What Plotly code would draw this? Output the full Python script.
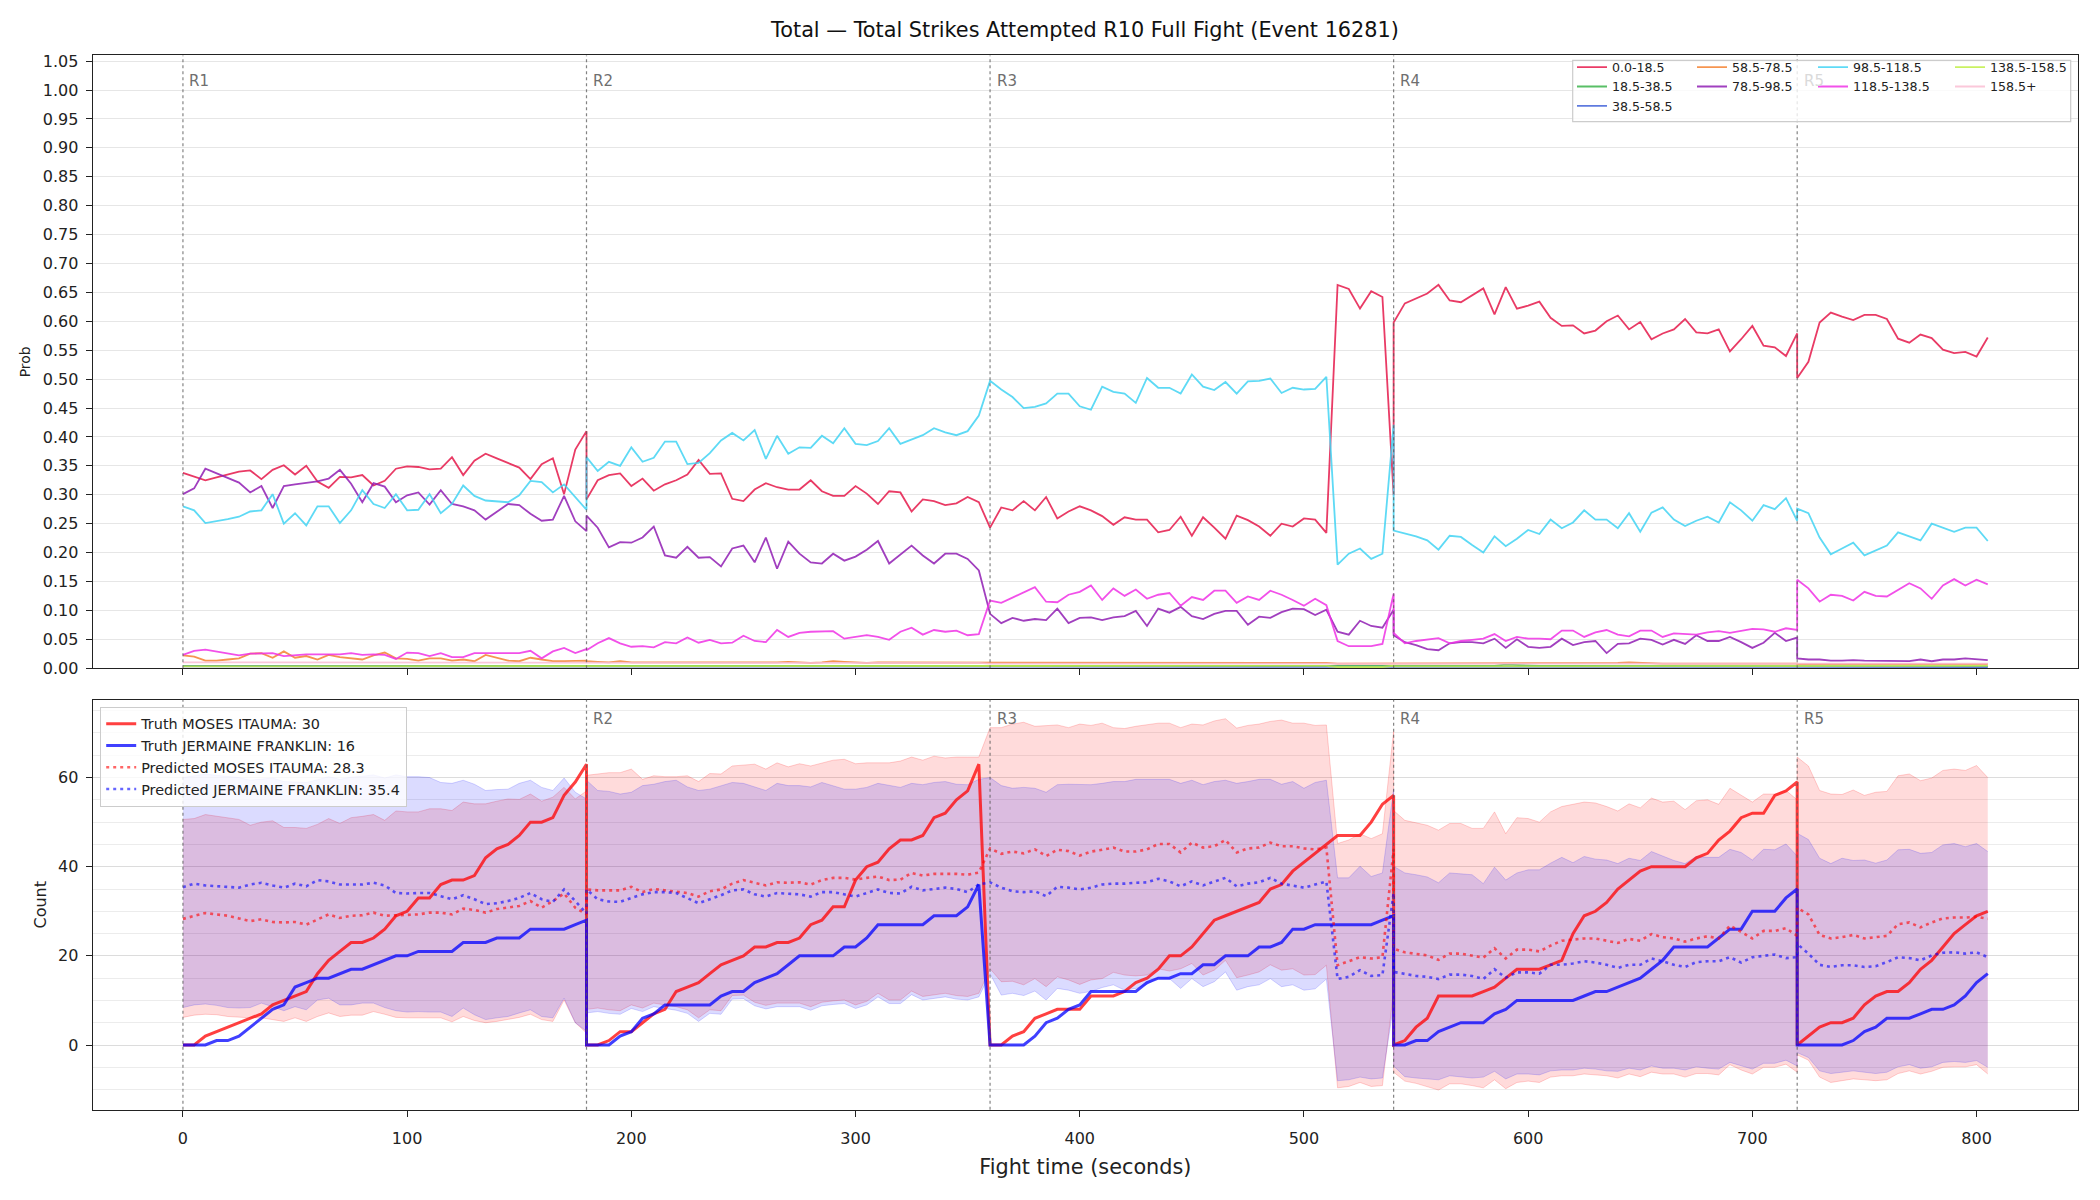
import plotly.graph_objects as go

# ---------------- time grid (5 s samples per round) ----------------
t_r1 = list(range(0, 181, 5))
t_r2 = list(range(180, 356, 5))
t_r3 = list(range(360, 541, 5))
t_r4 = list(range(540, 721, 5))
t_r5 = list(range(720, 806, 5))
time_s = t_r1 + t_r2 + t_r3 + t_r4 + t_r5

round_starts = [0, 180, 360, 540, 720]
round_labels = ["R1", "R2", "R3", "R4", "R5"]

# ---------------- top panel: bin probabilities ----------------
bin_labels = ["0.0-18.5", "18.5-38.5", "38.5-58.5", "58.5-78.5", "78.5-98.5",
              "98.5-118.5", "118.5-138.5", "138.5-158.5", "158.5+"]
bin_colors = ["#e6194B", "#3cb44b", "#4363d8", "#f58231", "#911eb4",
              "#42d4f4", "#f032e6", "#bfef45", "#fabed4"]

p_0_18 = [
    0.338, 0.331, 0.325, 0.330, 0.335, 0.340, 0.342, 0.327, 0.343, 0.351,
    0.335, 0.350, 0.323, 0.312, 0.331, 0.330, 0.334, 0.316, 0.324, 0.345,
    0.349, 0.348, 0.344, 0.345, 0.365, 0.334, 0.359, 0.371, 0.363, 0.355,
    0.347, 0.327, 0.353, 0.363, 0.301, 0.378, 0.410,
    0.292, 0.325, 0.334, 0.337, 0.315, 0.328, 0.307, 0.318, 0.325, 0.335,
    0.360, 0.336, 0.337, 0.293, 0.289, 0.309, 0.320, 0.313, 0.309, 0.309,
    0.325, 0.306, 0.298, 0.298, 0.315, 0.302, 0.284, 0.306, 0.304, 0.271,
    0.292, 0.289, 0.282, 0.285, 0.296, 0.287,
    0.243, 0.278, 0.273, 0.289, 0.273, 0.296, 0.259, 0.271, 0.280, 0.273,
    0.263, 0.248, 0.261, 0.257, 0.257, 0.235, 0.239, 0.262, 0.229, 0.261,
    0.243, 0.224, 0.264, 0.256, 0.245, 0.229, 0.250, 0.245, 0.259, 0.257,
    0.234, 0.663, 0.656, 0.622, 0.652, 0.642, 0.299,
    0.598, 0.631, 0.640, 0.648, 0.663, 0.636, 0.633, 0.645, 0.657, 0.612,
    0.659, 0.622, 0.627, 0.634, 0.606, 0.592, 0.593, 0.579, 0.584, 0.600,
    0.610, 0.586, 0.599, 0.569, 0.579, 0.586, 0.604, 0.581, 0.579, 0.586,
    0.548, 0.569, 0.592, 0.558, 0.555, 0.540, 0.579,
    0.502, 0.530, 0.598, 0.615, 0.608, 0.602, 0.611, 0.611, 0.604, 0.570,
    0.563, 0.577, 0.571, 0.551, 0.545, 0.547, 0.539, 0.572,
]
p_18_38 = [
    0.004, 0.004, 0.004, 0.004, 0.004, 0.004, 0.004, 0.004, 0.004, 0.004,
    0.004, 0.004, 0.004, 0.004, 0.004, 0.004, 0.004, 0.004, 0.004, 0.004,
    0.004, 0.004, 0.004, 0.004, 0.004, 0.004, 0.004, 0.004, 0.004, 0.004,
    0.004, 0.004, 0.004, 0.004, 0.004, 0.004, 0.004,
    0.004, 0.004, 0.004, 0.004, 0.004, 0.004, 0.004, 0.004, 0.004, 0.004,
    0.004, 0.004, 0.004, 0.004, 0.004, 0.004, 0.004, 0.004, 0.004, 0.004,
    0.004, 0.004, 0.004, 0.004, 0.004, 0.004, 0.004, 0.004, 0.004, 0.004,
    0.004, 0.004, 0.004, 0.004, 0.004, 0.004,
    0.004, 0.004, 0.004, 0.004, 0.004, 0.004, 0.004, 0.004, 0.004, 0.004,
    0.004, 0.004, 0.004, 0.004, 0.004, 0.004, 0.004, 0.004, 0.004, 0.004,
    0.004, 0.004, 0.004, 0.004, 0.004, 0.004, 0.004, 0.004, 0.004, 0.004,
    0.004, 0.003, 0.003, 0.003, 0.003, 0.003, 0.004,
    0.004, 0.004, 0.004, 0.004, 0.004, 0.004, 0.004, 0.004, 0.004, 0.004,
    0.006, 0.005, 0.004, 0.004, 0.004, 0.004, 0.004, 0.004, 0.004, 0.004,
    0.004, 0.004, 0.004, 0.004, 0.004, 0.004, 0.004, 0.004, 0.004, 0.004,
    0.004, 0.004, 0.004, 0.004, 0.004, 0.004, 0.004,
    0.003, 0.003, 0.003, 0.003, 0.003, 0.003, 0.003, 0.003, 0.003, 0.003,
    0.003, 0.003, 0.003, 0.003, 0.003, 0.003, 0.003, 0.003,
]
p_38_58 = [
    0.003, 0.003, 0.003, 0.003, 0.003, 0.003, 0.003, 0.003, 0.003, 0.003,
    0.003, 0.003, 0.003, 0.003, 0.003, 0.003, 0.003, 0.003, 0.003, 0.003,
    0.003, 0.003, 0.003, 0.003, 0.003, 0.003, 0.003, 0.003, 0.003, 0.003,
    0.003, 0.003, 0.003, 0.003, 0.003, 0.003, 0.003,
    0.003, 0.003, 0.003, 0.003, 0.003, 0.003, 0.003, 0.003, 0.003, 0.003,
    0.003, 0.003, 0.003, 0.003, 0.003, 0.003, 0.003, 0.003, 0.003, 0.003,
    0.003, 0.003, 0.003, 0.003, 0.003, 0.003, 0.003, 0.003, 0.003, 0.003,
    0.003, 0.003, 0.003, 0.003, 0.003, 0.003,
    0.003, 0.003, 0.003, 0.003, 0.003, 0.003, 0.003, 0.003, 0.003, 0.003,
    0.003, 0.003, 0.003, 0.003, 0.003, 0.003, 0.003, 0.003, 0.003, 0.003,
    0.003, 0.003, 0.003, 0.003, 0.003, 0.003, 0.003, 0.003, 0.003, 0.003,
    0.003, 0.002, 0.002, 0.002, 0.002, 0.002, 0.003,
    0.003, 0.003, 0.003, 0.003, 0.003, 0.003, 0.003, 0.003, 0.003, 0.003,
    0.003, 0.003, 0.003, 0.003, 0.003, 0.003, 0.003, 0.003, 0.003, 0.003,
    0.003, 0.003, 0.003, 0.003, 0.003, 0.003, 0.003, 0.003, 0.003, 0.003,
    0.003, 0.003, 0.003, 0.003, 0.003, 0.003, 0.003,
    0.002, 0.002, 0.002, 0.002, 0.002, 0.002, 0.002, 0.002, 0.002, 0.002,
    0.002, 0.002, 0.002, 0.002, 0.002, 0.002, 0.002, 0.002,
]
p_58_78 = [
    0.022, 0.020, 0.013, 0.013, 0.015, 0.017, 0.025, 0.026, 0.018, 0.029,
    0.018, 0.021, 0.015, 0.023, 0.019, 0.017, 0.015, 0.022, 0.027, 0.017,
    0.016, 0.013, 0.017, 0.017, 0.013, 0.015, 0.012, 0.023, 0.018, 0.013,
    0.012, 0.018, 0.015, 0.012, 0.012, 0.012, 0.013,
    0.012, 0.011, 0.010, 0.012, 0.010, 0.010, 0.010, 0.010, 0.009, 0.010,
    0.010, 0.009, 0.010, 0.010, 0.009, 0.010, 0.009, 0.010, 0.011, 0.010,
    0.009, 0.010, 0.012, 0.011, 0.010, 0.009, 0.010, 0.010, 0.009, 0.009,
    0.010, 0.010, 0.009, 0.010, 0.010, 0.009,
    0.009, 0.009, 0.010, 0.009, 0.009, 0.010, 0.009, 0.009, 0.009, 0.010,
    0.009, 0.009, 0.009, 0.010, 0.009, 0.009, 0.009, 0.009, 0.010, 0.009,
    0.009, 0.009, 0.009, 0.010, 0.009, 0.009, 0.009, 0.009, 0.009, 0.010,
    0.009, 0.008, 0.008, 0.008, 0.008, 0.008, 0.009,
    0.008, 0.008, 0.008, 0.008, 0.008, 0.008, 0.009, 0.008, 0.008, 0.008,
    0.008, 0.008, 0.008, 0.009, 0.008, 0.008, 0.008, 0.008, 0.008, 0.008,
    0.009, 0.010, 0.009, 0.008, 0.008, 0.008, 0.008, 0.008, 0.008, 0.009,
    0.008, 0.008, 0.008, 0.008, 0.008, 0.008, 0.008,
    0.007, 0.007, 0.007, 0.007, 0.007, 0.007, 0.007, 0.008, 0.007, 0.007,
    0.007, 0.007, 0.007, 0.007, 0.007, 0.007, 0.007, 0.007,
]
p_78_98 = [
    0.301, 0.311, 0.345, 0.337, 0.330, 0.321, 0.304, 0.315, 0.277, 0.315,
    0.318, 0.320, 0.323, 0.328, 0.343, 0.319, 0.287, 0.320, 0.314, 0.287,
    0.299, 0.304, 0.283, 0.308, 0.284, 0.280, 0.273, 0.257, 0.270, 0.284,
    0.282, 0.267, 0.255, 0.257, 0.298, 0.254, 0.237,
    0.264, 0.243, 0.209, 0.218, 0.217, 0.226, 0.245, 0.195, 0.191, 0.210,
    0.191, 0.192, 0.176, 0.207, 0.212, 0.183, 0.226, 0.172, 0.219, 0.198,
    0.183, 0.181, 0.198, 0.186, 0.193, 0.205, 0.220, 0.181, 0.196, 0.212,
    0.195, 0.181, 0.198, 0.198, 0.189, 0.169,
    0.094, 0.078, 0.087, 0.082, 0.085, 0.083, 0.103, 0.078, 0.087, 0.088,
    0.083, 0.088, 0.090, 0.099, 0.073, 0.103, 0.096, 0.106, 0.090, 0.085,
    0.094, 0.099, 0.099, 0.075, 0.089, 0.087, 0.097, 0.103, 0.102, 0.092,
    0.101, 0.063, 0.058, 0.082, 0.073, 0.070, 0.101,
    0.057, 0.045, 0.040, 0.033, 0.031, 0.043, 0.045, 0.045, 0.043, 0.051,
    0.035, 0.050, 0.037, 0.035, 0.037, 0.051, 0.040, 0.045, 0.047, 0.026,
    0.042, 0.043, 0.051, 0.049, 0.041, 0.049, 0.042, 0.057, 0.047, 0.047,
    0.054, 0.045, 0.035, 0.044, 0.061, 0.047, 0.053,
    0.017, 0.015, 0.015, 0.013, 0.013, 0.014, 0.013, 0.013, 0.012, 0.012,
    0.012, 0.015, 0.012, 0.015, 0.015, 0.017, 0.015, 0.014,
]
p_98_118 = [
    0.280, 0.273, 0.251, 0.254, 0.258, 0.262, 0.271, 0.273, 0.301, 0.250,
    0.268, 0.247, 0.280, 0.280, 0.251, 0.273, 0.308, 0.284, 0.277, 0.301,
    0.273, 0.274, 0.301, 0.268, 0.284, 0.316, 0.298, 0.290, 0.288, 0.287,
    0.299, 0.324, 0.322, 0.304, 0.318, 0.296, 0.274,
    0.365, 0.341, 0.357, 0.350, 0.382, 0.357, 0.364, 0.392, 0.392, 0.353,
    0.355, 0.372, 0.394, 0.407, 0.394, 0.412, 0.362, 0.402, 0.371, 0.382,
    0.381, 0.402, 0.389, 0.415, 0.388, 0.386, 0.393, 0.415, 0.388, 0.396,
    0.403, 0.415, 0.408, 0.403, 0.410, 0.437,
    0.497, 0.482, 0.469, 0.450, 0.452, 0.458, 0.475, 0.475, 0.453, 0.447,
    0.487, 0.478, 0.475, 0.459, 0.502, 0.485, 0.485, 0.475, 0.508, 0.487,
    0.481, 0.495, 0.475, 0.496, 0.497, 0.501, 0.476, 0.485, 0.482, 0.483,
    0.504, 0.179, 0.198, 0.207, 0.189, 0.198, 0.421,
    0.238, 0.233, 0.228, 0.221, 0.205, 0.229, 0.227, 0.213, 0.200, 0.228,
    0.211, 0.224, 0.239, 0.232, 0.257, 0.242, 0.252, 0.273, 0.257, 0.257,
    0.242, 0.268, 0.236, 0.269, 0.278, 0.257, 0.246, 0.255, 0.262, 0.252,
    0.287, 0.273, 0.255, 0.282, 0.275, 0.294, 0.255,
    0.276, 0.268, 0.226, 0.197, 0.207, 0.217, 0.195, 0.203, 0.212, 0.235,
    0.228, 0.221, 0.250, 0.243, 0.236, 0.243, 0.243, 0.220,
]
p_118_138 = [
    0.023, 0.030, 0.032, 0.029, 0.026, 0.022, 0.025, 0.026, 0.026, 0.021,
    0.023, 0.024, 0.024, 0.024, 0.024, 0.026, 0.023, 0.024, 0.023, 0.016,
    0.027, 0.026, 0.021, 0.026, 0.019, 0.019, 0.026, 0.026, 0.026, 0.027,
    0.026, 0.030, 0.017, 0.029, 0.035, 0.026, 0.033,
    0.031, 0.043, 0.052, 0.043, 0.037, 0.038, 0.036, 0.045, 0.043, 0.053,
    0.044, 0.049, 0.043, 0.044, 0.056, 0.047, 0.045, 0.066, 0.054, 0.061,
    0.063, 0.063, 0.064, 0.051, 0.054, 0.057, 0.054, 0.049, 0.063, 0.070,
    0.058, 0.066, 0.063, 0.065, 0.057, 0.059,
    0.117, 0.113, 0.122, 0.131, 0.140, 0.115, 0.114, 0.127, 0.132, 0.143,
    0.118, 0.138, 0.125, 0.136, 0.120, 0.127, 0.130, 0.108, 0.123, 0.118,
    0.134, 0.134, 0.113, 0.124, 0.118, 0.134, 0.127, 0.118, 0.108, 0.120,
    0.109, 0.047, 0.038, 0.038, 0.038, 0.042, 0.129,
    0.061, 0.043, 0.047, 0.050, 0.052, 0.043, 0.047, 0.049, 0.051, 0.059,
    0.047, 0.054, 0.051, 0.051, 0.050, 0.065, 0.065, 0.054, 0.062, 0.066,
    0.058, 0.055, 0.065, 0.065, 0.054, 0.060, 0.059, 0.058, 0.062, 0.064,
    0.061, 0.064, 0.068, 0.067, 0.063, 0.069, 0.066,
    0.153, 0.138, 0.115, 0.127, 0.125, 0.117, 0.132, 0.125, 0.124, 0.136,
    0.147, 0.138, 0.120, 0.143, 0.154, 0.143, 0.153, 0.145,
]
p_138_158 = [
    0.003, 0.003, 0.003, 0.003, 0.003, 0.003, 0.003, 0.003, 0.003, 0.003,
    0.003, 0.003, 0.003, 0.003, 0.003, 0.003, 0.003, 0.003, 0.003, 0.003,
    0.003, 0.003, 0.003, 0.003, 0.003, 0.003, 0.003, 0.003, 0.003, 0.003,
    0.003, 0.003, 0.003, 0.003, 0.003, 0.003, 0.003,
    0.003, 0.003, 0.003, 0.003, 0.003, 0.003, 0.003, 0.003, 0.003, 0.003,
    0.003, 0.003, 0.003, 0.003, 0.003, 0.003, 0.003, 0.003, 0.003, 0.003,
    0.003, 0.003, 0.003, 0.003, 0.003, 0.003, 0.003, 0.003, 0.003, 0.003,
    0.003, 0.003, 0.003, 0.003, 0.003, 0.003,
    0.004, 0.004, 0.004, 0.004, 0.004, 0.004, 0.004, 0.004, 0.004, 0.004,
    0.004, 0.004, 0.004, 0.004, 0.004, 0.004, 0.004, 0.004, 0.004, 0.004,
    0.004, 0.004, 0.004, 0.004, 0.004, 0.004, 0.004, 0.004, 0.004, 0.004,
    0.004, 0.002, 0.002, 0.002, 0.002, 0.002, 0.004,
    0.003, 0.003, 0.003, 0.003, 0.003, 0.003, 0.003, 0.003, 0.003, 0.003,
    0.003, 0.003, 0.003, 0.003, 0.003, 0.003, 0.003, 0.003, 0.003, 0.003,
    0.003, 0.003, 0.003, 0.003, 0.003, 0.003, 0.003, 0.003, 0.003, 0.003,
    0.003, 0.003, 0.003, 0.003, 0.003, 0.003, 0.003,
    0.004, 0.004, 0.004, 0.004, 0.004, 0.004, 0.004, 0.004, 0.004, 0.004,
    0.004, 0.004, 0.004, 0.004, 0.004, 0.004, 0.004, 0.004,
]
p_158_up = [
    0.010, 0.010, 0.009, 0.009, 0.009, 0.010, 0.010, 0.010, 0.009, 0.010,
    0.010, 0.010, 0.009, 0.010, 0.010, 0.010, 0.009, 0.010, 0.010, 0.010,
    0.010, 0.009, 0.010, 0.010, 0.010, 0.010, 0.009, 0.010, 0.010, 0.010,
    0.010, 0.010, 0.009, 0.010, 0.010, 0.010, 0.010,
    0.009, 0.009, 0.009, 0.009, 0.009, 0.009, 0.009, 0.009, 0.009, 0.009,
    0.009, 0.009, 0.009, 0.009, 0.009, 0.009, 0.009, 0.009, 0.009, 0.009,
    0.009, 0.009, 0.009, 0.009, 0.009, 0.009, 0.009, 0.009, 0.009, 0.009,
    0.009, 0.009, 0.009, 0.009, 0.009, 0.009,
    0.008, 0.008, 0.008, 0.008, 0.008, 0.008, 0.008, 0.008, 0.008, 0.008,
    0.008, 0.008, 0.008, 0.008, 0.008, 0.008, 0.008, 0.008, 0.008, 0.008,
    0.008, 0.008, 0.008, 0.008, 0.008, 0.008, 0.008, 0.008, 0.008, 0.008,
    0.008, 0.007, 0.007, 0.007, 0.007, 0.007, 0.008,
    0.008, 0.008, 0.008, 0.008, 0.008, 0.008, 0.008, 0.008, 0.008, 0.008,
    0.008, 0.008, 0.008, 0.008, 0.008, 0.008, 0.008, 0.008, 0.008, 0.008,
    0.008, 0.008, 0.008, 0.008, 0.008, 0.008, 0.008, 0.008, 0.008, 0.008,
    0.008, 0.008, 0.008, 0.008, 0.008, 0.008, 0.008,
    0.008, 0.008, 0.008, 0.008, 0.008, 0.008, 0.008, 0.008, 0.008, 0.008,
    0.008, 0.008, 0.008, 0.008, 0.008, 0.008, 0.008, 0.008,
]
bin_probs = [p_0_18, p_18_38, p_38_58, p_58_78, p_78_98,
             p_98_118, p_118_138, p_138_158, p_158_up]

# ---------------- bottom panel: counts ----------------
fighter_red = "MOSES ITAUMA"
fighter_blue = "JERMAINE FRANKLIN"

truth_red = [
    0, 0, 2, 3, 4, 5, 6, 7, 9, 10, 11, 12, 16, 19, 21, 23, 23, 24, 26, 29,
    30, 33, 33, 36, 37, 37, 38, 42, 44, 45, 47, 50, 50, 51, 56, 59, 63,
    0, 0, 1, 3, 3, 5, 7, 8, 12, 13, 14, 16, 18, 19, 20, 22, 22, 23, 23, 24,
    27, 28, 31, 31, 37, 40, 41, 44, 46, 46, 47, 51, 52, 55, 57, 63,
    0, 0, 2, 3, 6, 7, 8, 8, 8, 11, 11, 11, 12, 14, 15, 17, 20, 20, 22, 25,
    28, 29, 30, 31, 32, 35, 36, 39, 41, 43, 45, 47, 47, 47, 50, 54, 56,
    0, 1, 4, 6, 11, 11, 11, 11, 12, 13, 15, 17, 17, 17, 18, 19, 25, 29, 30, 32,
    35, 37, 39, 40, 40, 40, 40, 42, 43, 46, 48, 51, 52, 52, 56, 57, 59,
    0, 2, 4, 5, 5, 6, 9, 11, 12, 12, 14, 17, 19, 22, 25, 27, 29, 30,
]
truth_blue = [
    0, 0, 0, 1, 1, 2, 4, 6, 8, 9, 13, 14, 15, 15, 16, 17, 17, 18, 19, 20,
    20, 21, 21, 21, 21, 23, 23, 23, 24, 24, 24, 26, 26, 26, 26, 27, 28,
    0, 0, 0, 2, 3, 6, 7, 9, 9, 9, 9, 9, 11, 12, 12, 14, 15, 16, 18, 20,
    20, 20, 20, 22, 22, 24, 27, 27, 27, 27, 27, 29, 29, 29, 31, 36,
    0, 0, 0, 0, 2, 5, 6, 8, 9, 12, 12, 12, 12, 12, 14, 15, 15, 16, 16, 18,
    18, 20, 20, 20, 22, 22, 23, 26, 26, 27, 27, 27, 27, 27, 27, 28, 29,
    0, 0, 1, 1, 3, 4, 5, 5, 5, 7, 8, 10, 10, 10, 10, 10, 10, 11, 12, 12,
    13, 14, 15, 17, 19, 22, 22, 22, 22, 24, 26, 26, 30, 30, 30, 33, 35,
    0, 0, 0, 0, 0, 1, 3, 4, 6, 6, 6, 7, 8, 8, 9, 11, 14, 16,
]
pred_red = [
    28.3, 29.0, 29.6, 29.3, 29.0, 28.4, 27.8, 28.2, 27.6, 27.5,
    27.6, 27.0, 28.2, 29.3, 28.5, 29.0, 29.1, 29.7, 29.0, 29.1,
    29.3, 29.3, 29.7, 29.7, 29.3, 30.6, 30.3, 29.7, 30.5, 30.8,
    31.2, 32.3, 30.8, 32.3, 34.0, 30.8, 29.3,
    34.9, 34.7, 34.7, 34.7, 35.5, 34.3, 35.0, 34.7, 34.4, 34.1,
    33.3, 34.5, 34.9, 36.2, 37.0, 36.4, 35.8, 36.5, 36.4, 36.5,
    36.0, 37.0, 37.5, 37.5, 37.1, 37.5, 37.8, 37.0, 37.1, 38.6,
    38.0, 38.4, 38.4, 38.4, 38.2, 38.7,
    44.1, 42.9, 43.4, 43.0, 43.9, 42.4, 43.8, 43.5, 42.5, 43.4,
    43.8, 44.3, 43.4, 43.4, 43.9, 45.1, 45.1, 43.2, 45.4, 44.3,
    44.6, 46.0, 43.2, 44.1, 44.3, 45.4, 44.6, 44.6, 44.1, 43.9,
    44.3, 17.9, 18.8, 19.7, 19.4, 19.7, 44.0,
    21.6, 20.8, 20.5, 20.1, 19.1, 20.5, 20.5, 20.1, 19.6, 21.7,
    19.4, 21.4, 21.4, 21.0, 22.3, 23.4, 23.7, 23.9, 23.9, 23.4,
    22.9, 23.8, 23.4, 24.9, 24.2, 23.9, 23.2, 23.9, 24.4, 23.9,
    26.8, 25.4, 23.9, 25.6, 25.6, 26.2, 24.5,
    30.8, 29.3, 24.7, 23.9, 24.2, 24.7, 23.9, 24.2, 24.5, 27.1,
    27.5, 26.4, 27.5, 28.4, 28.6, 28.6, 28.8, 28.3,
]
pred_blue = [
    35.4, 36.2, 35.8, 35.6, 35.4, 35.3, 36.0, 36.4, 35.8, 35.3,
    36.2, 35.6, 37.0, 36.7, 36.0, 36.0, 36.0, 36.4, 35.8, 34.1,
    34.0, 34.1, 34.1, 33.4, 32.7, 33.6, 32.7, 31.6, 31.8, 32.3,
    33.0, 34.1, 32.7, 32.1, 34.9, 32.3, 29.5,
    34.9, 32.7, 32.2, 32.1, 33.0, 33.8, 34.3, 34.3, 34.1, 33.0,
    31.8, 32.7, 33.6, 34.7, 34.9, 33.8, 33.3, 34.1, 33.9, 33.8,
    33.3, 34.3, 34.3, 33.8, 33.3, 34.1, 34.9, 34.1, 34.0, 35.5,
    34.7, 35.0, 35.3, 35.0, 34.3, 36.0,
    36.5, 35.3, 34.5, 34.3, 34.5, 33.4, 35.5, 35.3, 34.9, 35.3,
    36.0, 36.2, 36.2, 36.4, 36.5, 37.3, 36.7, 35.6, 36.7, 35.8,
    36.7, 37.5, 35.6, 36.2, 36.5, 37.5, 36.2, 35.8, 35.3, 36.0,
    36.7, 14.8, 15.3, 16.8, 15.5, 15.7, 34.1,
    16.4, 16.0, 15.5, 15.3, 14.8, 15.8, 15.8, 15.5, 14.8, 17.0,
    15.1, 16.3, 16.3, 16.0, 18.0, 18.0, 18.3, 18.8, 18.5, 18.0,
    17.3, 18.0, 18.0, 19.4, 18.8, 18.0, 17.5, 18.6, 18.8, 18.8,
    19.7, 18.5, 19.7, 20.0, 20.3, 19.5, 19.7,
    22.7, 20.5, 18.0, 17.5, 17.9, 17.9, 17.5, 17.7, 18.6, 19.7,
    19.5, 19.0, 20.1, 20.7, 20.8, 20.5, 20.8, 19.7,
]
band_red_hi = [
    50.6, 50.8, 51.7, 51.3, 51.0, 50.6, 49.3, 50.0, 50.3, 48.8,
    48.8, 48.6, 49.5, 50.8, 49.7, 51.0, 51.3, 51.7, 50.4, 52.5,
    52.3, 52.3, 53.0, 53.0, 52.6, 54.5, 54.1, 54.1, 54.7, 55.2,
    55.1, 56.3, 54.7, 55.6, 57.8, 55.2, 57.0,
    60.5, 60.8, 61.1, 61.1, 61.9, 59.6, 60.4, 60.2, 60.2, 60.4,
    59.1, 60.9, 60.8, 62.6, 62.8, 63.0, 61.9, 63.3, 62.4, 63.1,
    62.6, 63.3, 63.9, 64.1, 63.1, 63.3, 63.3, 63.3, 63.7, 64.6,
    63.9, 64.8, 64.4, 64.6, 64.6, 64.6,
    71.2, 71.2, 72.0, 72.4, 71.5, 71.7, 71.8, 71.2, 72.0, 71.7,
    72.2, 71.2, 71.0, 71.5, 71.8, 72.2, 72.2, 71.2, 72.0, 71.8,
    72.7, 73.2, 71.1, 71.7, 72.0, 72.6, 72.9, 72.2, 72.2, 71.7,
    71.8, 45.2, 46.0, 47.4, 46.3, 47.4, 70.4,
    52.6, 50.4, 49.8, 49.3, 48.2, 49.7, 49.7, 48.6, 48.6, 52.3,
    47.4, 51.0, 50.8, 50.0, 52.3, 53.5, 54.0, 54.5, 54.3, 53.5,
    52.5, 54.1, 53.2, 55.4, 54.5, 54.7, 52.8, 54.8, 55.0, 54.0,
    57.6, 56.0, 54.5, 56.3, 56.3, 57.1, 55.0,
    64.6, 62.6, 57.1, 56.3, 56.2, 57.2, 56.0, 56.7, 56.9, 60.4,
    60.8, 59.3, 59.9, 61.6, 61.9, 61.6, 62.7, 60.0,
]
band_red_lo = [
    6.2, 6.7, 6.9, 6.8, 6.4, 6.2, 6.1, 6.1, 5.7, 5.3,
    6.1, 5.3, 6.4, 7.2, 6.4, 6.7, 6.7, 7.5, 6.9, 6.2,
    6.1, 6.1, 6.2, 6.1, 5.2, 6.4, 5.5, 5.0, 5.3, 5.7,
    6.2, 6.9, 5.7, 5.3, 10.1, 5.0, 2.7,
    8.0, 8.3, 7.9, 7.7, 9.0, 8.3, 9.4, 9.0, 8.6, 7.9,
    6.1, 7.9, 7.7, 11.1, 11.2, 9.6, 8.9, 9.4, 9.4, 9.4,
    8.6, 9.6, 9.9, 10.1, 9.0, 9.8, 11.6, 10.1, 10.1, 12.1,
    10.9, 11.2, 11.6, 11.1, 10.9, 11.6,
    17.1, 14.2, 14.3, 13.5, 14.9, 13.1, 15.3, 14.6, 13.6, 14.6,
    14.9, 16.3, 15.7, 15.5, 15.7, 17.1, 16.6, 17.1, 18.3, 15.7,
    16.8, 19.0, 15.1, 15.7, 16.4, 18.0, 16.8, 17.1, 15.7, 15.8,
    17.9, -9.6, -9.3, -8.4, -9.3, -9.1, 12.0,
    -6.1, -8.1, -8.6, -9.3, -10.1, -8.7, -8.7, -9.1, -9.6, -7.8,
    -9.8, -8.4, -8.1, -8.4, -7.2, -6.9, -6.9, -6.5, -6.7, -6.9,
    -7.4, -6.5, -7.1, -6.1, -6.5, -6.5, -7.2, -6.4, -6.4, -6.7,
    -4.4, -5.6, -6.5, -5.0, -5.0, -4.3, -6.1,
    -2.2, -3.4, -7.2, -8.4, -8.0, -7.6, -7.8, -8.0, -7.8, -6.4,
    -5.8, -6.5, -5.9, -5.0, -4.9, -4.9, -4.4, -6.5,
]
band_blue_hi = [
    60.0, 60.4, 60.8, 60.5, 60.2, 60.0, 59.4, 59.7, 59.9, 59.1,
    59.0, 58.9, 59.5, 60.2, 59.6, 60.1, 60.3, 60.6, 59.9, 60.6,
    60.2, 60.2, 60.0, 58.9, 58.7, 59.4, 58.5, 57.1, 57.3, 57.4,
    58.7, 59.4, 57.8, 57.1, 59.9, 56.7, 55.2,
    59.4, 57.1, 56.9, 56.3, 56.7, 58.2, 58.5, 59.1, 59.4, 57.9,
    57.1, 57.4, 58.2, 58.9, 58.7, 57.9, 57.1, 58.7, 58.2, 58.2,
    57.9, 58.9, 58.2, 57.4, 57.4, 57.8, 58.7, 58.2, 57.8, 58.7,
    58.4, 58.9, 59.1, 58.5, 58.4, 59.6,
    60.0, 58.2, 57.6, 57.8, 57.6, 56.7, 58.4, 58.5, 58.4, 58.4,
    58.7, 59.1, 59.1, 59.6, 59.6, 59.6, 59.6, 58.7, 59.4, 58.4,
    59.1, 59.4, 58.7, 59.1, 59.6, 59.6, 58.5, 59.1, 57.6, 58.9,
    59.4, 37.5, 37.5, 40.1, 37.8, 38.6, 57.4,
    40.1, 38.6, 38.2, 37.7, 36.4, 38.6, 38.4, 38.2, 36.2, 39.9,
    37.0, 38.6, 39.3, 39.3, 40.8, 42.1, 40.9, 42.3, 41.7, 41.5,
    40.7, 41.9, 41.4, 43.4, 42.4, 41.4, 40.7, 42.3, 42.1, 42.1,
    43.9, 43.2, 41.5, 43.9, 43.8, 45.1, 42.4,
    47.5, 46.1, 41.9, 40.7, 41.9, 41.4, 41.5, 40.8, 41.5, 43.8,
    43.9, 43.0, 43.2, 44.9, 45.2, 44.5, 45.2, 43.4,
]
band_blue_lo = [
    8.4, 9.0, 9.2, 8.9, 8.4, 8.3, 8.4, 9.4, 8.6, 7.7,
    8.6, 7.9, 10.1, 10.5, 9.0, 9.0, 9.4, 9.4, 8.4, 7.7,
    7.4, 7.5, 7.4, 7.4, 6.4, 8.3, 6.8, 5.7, 6.1, 6.4,
    7.2, 7.9, 6.4, 6.1, 10.5, 5.0, 3.1,
    7.2, 7.5, 7.1, 6.9, 8.2, 7.5, 8.6, 8.2, 7.8, 7.1,
    5.3, 7.1, 6.9, 10.3, 10.4, 8.8, 8.1, 8.6, 8.6, 8.6,
    7.8, 8.8, 9.1, 9.3, 8.2, 9.0, 10.8, 9.3, 9.3, 11.3,
    10.1, 10.4, 10.8, 10.3, 10.1, 10.8,
    16.0, 11.2, 11.6, 11.1, 12.1, 10.1, 12.7, 12.3, 11.6, 12.0,
    12.9, 13.5, 12.3, 12.7, 13.6, 15.1, 14.9, 12.7, 14.9, 13.1,
    14.2, 16.4, 12.3, 13.1, 13.5, 14.9, 13.1, 13.5, 12.3, 12.6,
    14.8, -8.0, -7.8, -7.2, -7.6, -7.4, 9.0,
    -4.7, -7.1, -7.4, -7.6, -7.8, -6.9, -7.1, -7.4, -7.2, -5.9,
    -7.6, -6.5, -6.5, -6.7, -5.8, -5.6, -5.6, -5.2, -5.4, -5.8,
    -5.9, -5.2, -5.6, -4.7, -5.2, -5.2, -5.6, -4.9, -5.2, -5.4,
    -3.9, -4.7, -5.4, -4.1, -4.1, -3.4, -4.7,
    -1.7, -2.8, -5.8, -6.4, -6.1, -5.8, -6.1, -6.4, -6.1, -4.9,
    -4.4, -5.2, -4.9, -3.9, -3.7, -3.9, -3.5, -5.0,
]

# ---------------- figure ----------------
W, H = 2100, 1200
FONT = "DejaVu Sans"
X_DOM = [92.7 / W, 2078 / W]
TOP_DOM = [1 - 672 / H, 1 - 52 / H]
BOT_DOM = [1 - 1118.7 / H, 1 - 704 / H]

fig = go.Figure()

# top panel lines, assigned to 4 legend columns (matplotlib ncol=4 fill order)
legend_of_bin = ["legend", "legend", "legend", "legend2", "legend2",
                 "legend3", "legend3", "legend4", "legend4"]
for lab, col, ys, lg in zip(bin_labels, bin_colors, bin_probs, legend_of_bin):
    fig.add_trace(go.Scatter(
        x=time_s, y=ys, mode="lines", name=lab, legend=lg,
        line=dict(color=col, width=1.8), opacity=0.85,
        xaxis="x", yaxis="y", hoverinfo="skip"))

# bottom panel bands
fig.add_trace(go.Scatter(x=time_s, y=band_red_hi, mode="lines", showlegend=False,
                         line=dict(color="rgba(255,0,0,0.18)", width=1),
                         xaxis="x2", yaxis="y2", hoverinfo="skip"))
fig.add_trace(go.Scatter(x=time_s, y=band_red_lo, mode="lines", showlegend=False,
                         line=dict(color="rgba(255,0,0,0.18)", width=1),
                         fill="tonexty", fillcolor="rgba(255,0,0,0.14)",
                         xaxis="x2", yaxis="y2", hoverinfo="skip"))
fig.add_trace(go.Scatter(x=time_s, y=band_blue_hi, mode="lines", showlegend=False,
                         line=dict(color="rgba(0,0,255,0.16)", width=1),
                         xaxis="x2", yaxis="y2", hoverinfo="skip"))
fig.add_trace(go.Scatter(x=time_s, y=band_blue_lo, mode="lines", showlegend=False,
                         line=dict(color="rgba(0,0,255,0.16)", width=1),
                         fill="tonexty", fillcolor="rgba(0,0,255,0.14)",
                         xaxis="x2", yaxis="y2", hoverinfo="skip"))

# bottom panel lines
fig.add_trace(go.Scatter(x=time_s, y=truth_red, mode="lines",
                         name=f"Truth {fighter_red}: {truth_red[-1]}", legend="legend5",
                         line=dict(color="rgba(255,0,0,0.75)", width=3),
                         xaxis="x2", yaxis="y2", hoverinfo="skip"))
fig.add_trace(go.Scatter(x=time_s, y=truth_blue, mode="lines",
                         name=f"Truth {fighter_blue}: {truth_blue[-1]}", legend="legend5",
                         line=dict(color="rgba(0,0,255,0.75)", width=3),
                         xaxis="x2", yaxis="y2", hoverinfo="skip"))
fig.add_trace(go.Scatter(x=time_s, y=pred_red, mode="lines",
                         name=f"Predicted {fighter_red}: {pred_red[0]}", legend="legend5",
                         line=dict(color="rgba(255,0,0,0.6)", width=2.6, dash="3px,4px"),
                         xaxis="x2", yaxis="y2", hoverinfo="skip"))
fig.add_trace(go.Scatter(x=time_s, y=pred_blue, mode="lines",
                         name=f"Predicted {fighter_blue}: {pred_blue[0]}", legend="legend5",
                         line=dict(color="rgba(0,0,255,0.6)", width=2.6, dash="3px,4px"),
                         xaxis="x2", yaxis="y2", hoverinfo="skip"))

# round separators
shapes = []
for t in round_starts:
    for xr, yr in (("x", "y domain"), ("x2", "y2 domain")):
        shapes.append(dict(type="line", xref=xr, yref=yr, x0=t, x1=t, y0=0, y1=1,
                           line=dict(color="rgba(90,90,90,0.75)", width=1.2, dash="dot"),
                           layer="above"))
# top legend frame
shapes.append(dict(type="rect", xref="paper", yref="paper",
                   x0=1572.7 / W, x1=2070.7 / W, y0=1 - 119 / H, y1=1 - 57 / H,
                   fillcolor="rgba(255,255,255,0.8)", line=dict(color="#cccccc", width=1.2),
                   layer="above"))

annotations = []
for t, lab in zip(round_starts, round_labels):
    annotations.append(dict(x=t + 2, y=1.015, xref="x", yref="y", text=lab,
                            showarrow=False, xanchor="left", yanchor="middle",
                            font=dict(family=FONT, size=15,
                                      color="#dadada" if lab == "R5" else "#6f6f6f")))
    if lab != "R1":
        annotations.append(dict(x=t + 2, y=73.2, xref="x2", yref="y2", text=lab,
                                showarrow=False, xanchor="left", yanchor="middle",
                                font=dict(family=FONT, size=15, color="#6f6f6f")))

axis_common = dict(showline=True, linecolor="#222222", linewidth=1.3, mirror=True,
                   ticks="outside", ticklen=6, tickwidth=1.2, tickcolor="#222222",
                   zeroline=False)

top_leg = dict(font=dict(family=FONT, size=12.6, color="#222"), bgcolor="rgba(0,0,0,0)",
               borderwidth=0, yanchor="top", xanchor="left", itemwidth=30,
               tracegroupgap=0, orientation="v", traceorder="normal")
leg_y = 1 - 49 / H
legs = {}
for name, xpix in (("legend", 1572), ("legend2", 1692), ("legend3", 1813), ("legend4", 1950)):
    d = dict(top_leg)
    d.update(x=xpix / W, y=leg_y)
    legs[name] = d

fig.update_layout(
    width=W, height=H, margin=dict(l=0, r=0, t=0, b=0),
    paper_bgcolor="white", plot_bgcolor="white",
    font=dict(family=FONT, color="#222222", size=14),
    title=dict(text="Total — Total Strikes Attempted R10 Full Fight (Event 16281)",
               x=1085 / W, xanchor="center", y=1 - 30 / H, yanchor="middle",
               font=dict(family=FONT, size=20.8, color="#111111")),
    xaxis=dict(domain=X_DOM, anchor="y", range=[-40.25, 845.25],
               tickvals=list(range(0, 801, 100)), showticklabels=False,
               showgrid=False, **axis_common),
    yaxis=dict(domain=TOP_DOM, anchor="x", range=[0, 1.06], tick0=0, dtick=0.05,
               tickformat=".2f", showgrid=True, gridcolor="#e6e6e6", gridwidth=1,
               tickfont=dict(size=16), ticklabelstandoff=4,
               title=dict(text="Prob", font=dict(size=14), standoff=8),
               **axis_common),
    xaxis2=dict(domain=X_DOM, anchor="y2", range=[-40.25, 845.25], matches="x",
                tickvals=list(range(0, 801, 100)), showgrid=False,
                tickfont=dict(size=16), ticklabelstandoff=8,
                title=dict(text="Fight time (seconds)", font=dict(size=20.8), standoff=12),
                **axis_common),
    yaxis2=dict(domain=BOT_DOM, anchor="x2", range=[-14.5, 77.45],
                tickvals=[0, 20, 40, 60], showgrid=True, gridcolor="#dcdcdc", gridwidth=1,
                minor=dict(dtick=5, tick0=0, showgrid=True, gridcolor="#ececec",
                           gridwidth=1, ticks=""),
                tickfont=dict(size=16), ticklabelstandoff=4,
                title=dict(text="Count", font=dict(size=16), standoff=7),
                **axis_common),
    legend=legs["legend"], legend2=legs["legend2"], legend3=legs["legend3"],
    legend4=legs["legend4"],
    legend5=dict(x=100 / W, y=1 - 711 / H, xanchor="left", yanchor="top",
                 font=dict(family=FONT, size=14.4, color="#222"),
                 bgcolor="rgba(255,255,255,0.8)", bordercolor="#cccccc", borderwidth=1.2,
                 itemwidth=30, tracegroupgap=0, traceorder="normal"),
    shapes=shapes, annotations=annotations,
)

fig.write_html("out.html")
